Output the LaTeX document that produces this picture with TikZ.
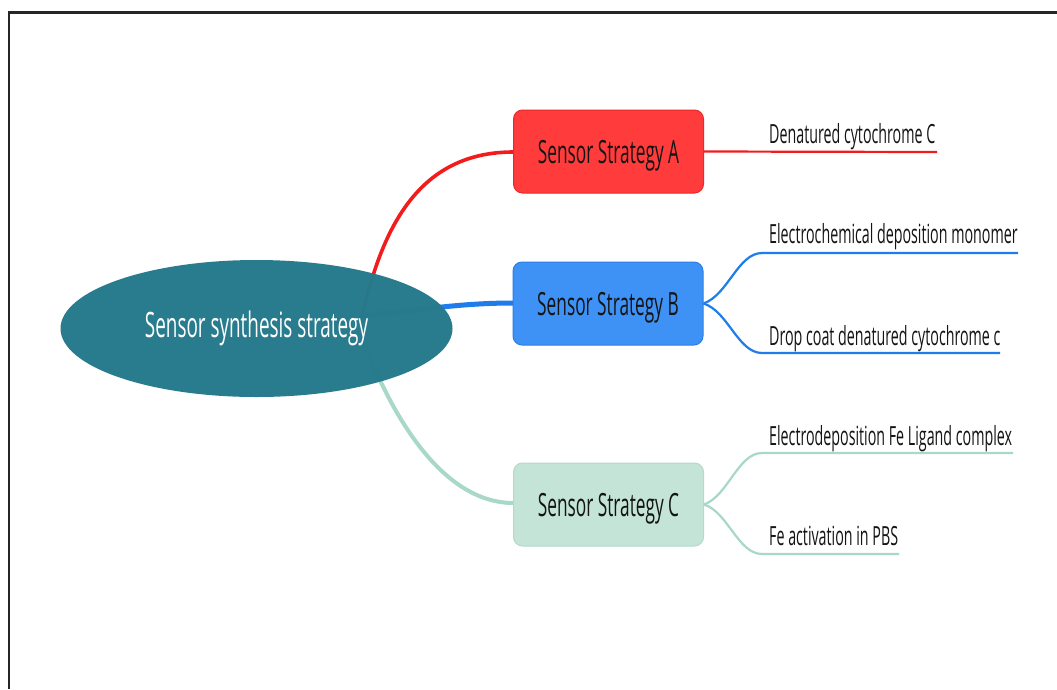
\documentclass[tikz,border=0pt]{standalone}
\usepackage{fontspec}
\setmainfont{Open Sans}
\newfontfamily\condfont[FakeStretch=0.54]{Open Sans}
\usetikzlibrary{shapes.geometric}
\definecolor{cRed}{HTML}{FF3B3B}
\definecolor{cRedB}{HTML}{E82A2A}
\definecolor{cRedL}{HTML}{F21C1C}
\definecolor{cBlue}{HTML}{3F92F5}
\definecolor{cBlueB}{HTML}{2A7FE6}
\definecolor{cBlueL}{HTML}{1E7CEB}
\definecolor{cMint}{HTML}{C3E4D7}
\definecolor{cMintB}{HTML}{B3DACB}
\definecolor{cMintL}{HTML}{A8D8C6}
\definecolor{cTeal}{HTML}{267A8C}
\definecolor{cText}{HTML}{141414}
\tikzset{
  rootnode/.style={ellipse, fill=cTeal, fill opacity=0.985, text opacity=1, minimum width=392pt, minimum height=137pt, inner sep=0pt, text=white, font=\condfont\fontsize{35}{40}\selectfont},
  boxnode/.style={rectangle, rounded corners=9pt, minimum width=190pt, minimum height=83pt, inner sep=0pt, line width=1pt, text=cText, text height=23pt, text depth=0pt, font=\condfont\fontsize{32}{36}\selectfont},
  leafnode/.style={anchor=base west, inner sep=0pt, text=cText, font=\condfont\fontsize{26.4}{30}\selectfont},
  mainline/.style={line width=#1, line cap=round},
  leafline/.style={line width=2.2pt}
}
\begin{document}
\begin{tikzpicture}[x=1pt,y=-1pt]
\useasboundingbox (0,0) rectangle (1057,689);
\fill[white] (0,0) rectangle (1057,689);
\draw[line width=2.4pt, black!85] (9,689) -- (9,12.5) -- (1057,12.5);

% coordinates
\coordinate (oA) at (362,318);
\coordinate (oB) at (362,316);
\coordinate (oC) at (365,345);
\coordinate (eA) at (937,152);
\coordinate (eB1) at (1018,253);
\coordinate (eB2) at (1000,353);
\coordinate (eC1) at (1013,453);
\coordinate (eC2) at (899,554);

% main branches (under the root)
\draw[mainline=3.6pt, cRedL] (oA) .. controls (385,210) and (430,152) .. (513.5,152);
\draw[mainline=5pt, cBlueL] (oB) .. controls (420,310) and (460,303) .. (513.5,303);
\draw[mainline=4pt, cMintL] (oC) .. controls (390,410) and (440,503) .. (513.5,503);

% root
\node[rootnode] (root) at (256.5,328.5) {Sensor synthesis strategy};

% strategy boxes
\node[boxnode, fill=cRed, draw=cRedB] (A) at (608.5,151.5) {Sensor Strategy A};
\node[boxnode, fill=cBlue, draw=cBlueB] (B) at (608,303.5) {Sensor Strategy B};
\node[boxnode, fill=cMint, draw=cMintB] (C) at (608.5,504.5) {Sensor Strategy C};

% leaf lines
\draw[leafline, cRedL] (A.east) -- (eA);
\draw[leafline, cBlueL] (B.east) .. controls (728,295) and (738,253) .. (762,253) -- (eB1);
\draw[leafline, cBlueL] (B.east) .. controls (728,311) and (738,353) .. (762,353) -- (eB2);
\draw[leafline, cMintL] (C.east) .. controls (728,496) and (738,453) .. (762,453) -- (eC1);
\draw[leafline, cMintL] (C.east) .. controls (728,512) and (738,554) .. (762,554) -- (eC2);

% leaf labels
\node[leafnode] (lA) at (769,143) {Denatured cytochrome C};
\node[leafnode] (lB1) at (769,243) {Electrochemical deposition monomer};
\node[leafnode] (lB2) at (769,345) {Drop coat denatured cytochrome c};
\node[leafnode] (lC1) at (769,445) {Electrodeposition Fe Ligand complex};
\node[leafnode] (lC2) at (769,545) {Fe activation in PBS};
\end{tikzpicture}
\end{document}
